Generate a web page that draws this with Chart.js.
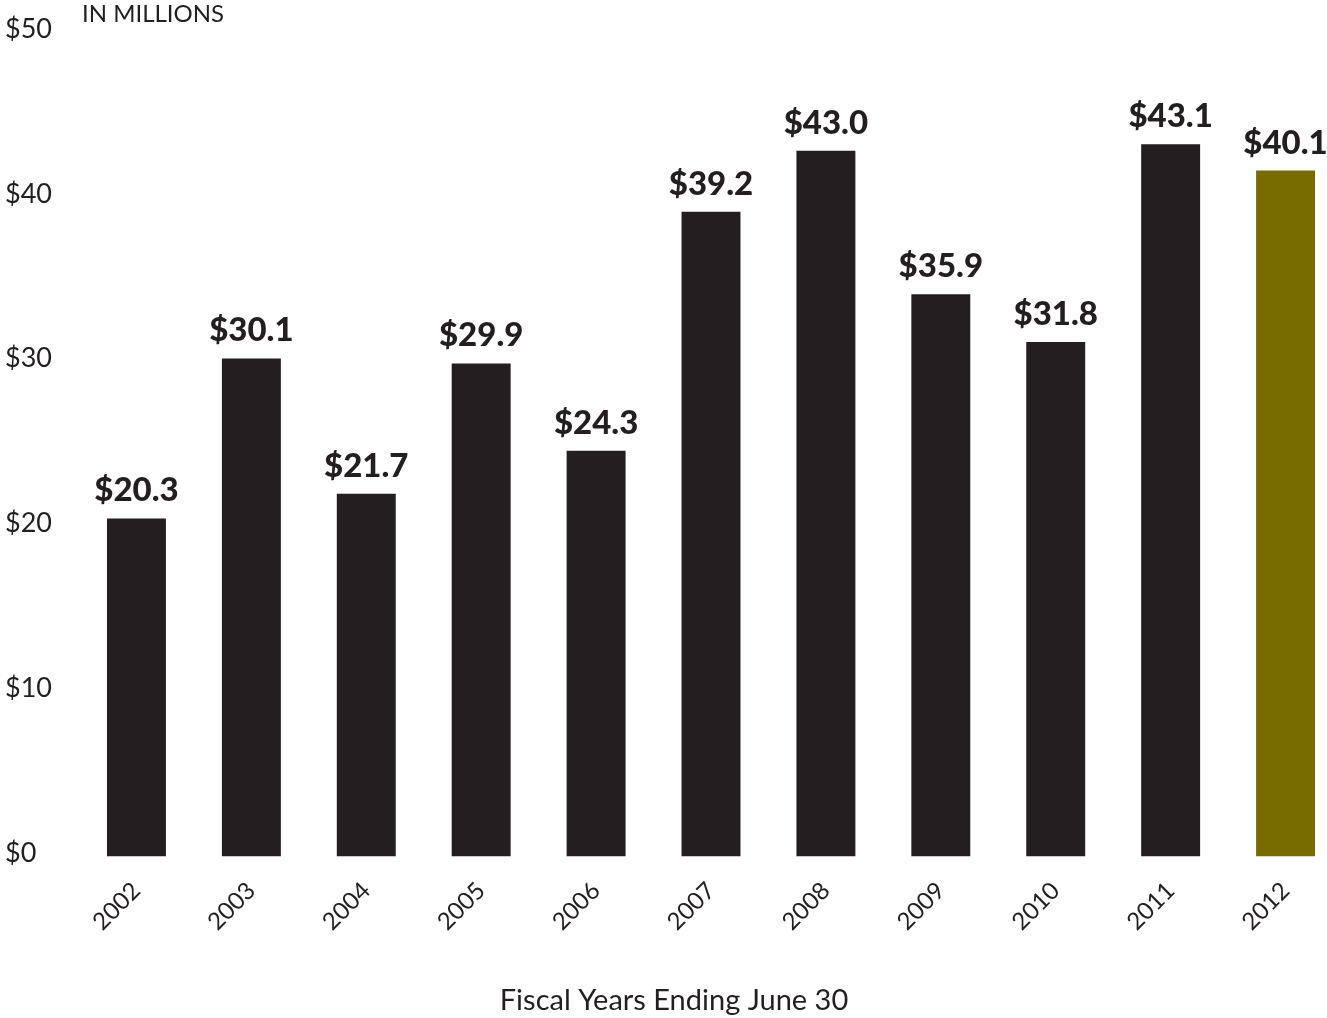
<!DOCTYPE html>
<html>
<head>
<meta charset="utf-8">
<script src="https://cdn.jsdelivr.net/npm/chart.js@4/dist/chart.umd.min.js"></script>
<style>
  html, body { margin: 0; padding: 0; background: #fff; overflow: hidden; }
  /* plot runs a little past the right window edge, as in the source */
  #wrap { width: 1343px; height: 1018px; position: relative; }
</style>
</head>
<body>
<div id="wrap"><canvas id="chart"></canvas></div>
<script>
// Fiscal year bars, heights as drawn in the picture
const years = ['2002', '2003', '2004', '2005', '2006', '2007', '2008', '2009', '2010', '2011', '2012'];
const amounts = [20.5, 30.2, 22.0, 29.9, 24.6, 39.1, 42.8, 34.1, 31.2, 43.2, 41.6];
// printed value labels above each bar
const valueLabels = ['$20.3', '$30.1', '$21.7', '$29.9', '$24.3', '$39.2', '$43.0', '$35.9', '$31.8', '$43.1', '$40.1'];
const yTicks = [0, 10, 20, 30, 40, 50];

const DARK = '#231f20';
const OLIVE = '#786c00';
const LIGHT_FONT = "Lato, 'Open Sans', sans-serif";

// Draw the bold value above each bar + the "IN MILLIONS" note
const valueLabelPlugin = {
  id: 'valueLabels',
  afterDatasetsDraw(chart) {
    const { ctx } = chart;
    const meta = chart.getDatasetMeta(0);
    ctx.save();
    ctx.fillStyle = DARK;
    ctx.font = "900 33px Lato, 'Open Sans', sans-serif";
    ctx.textAlign = 'center';
    ctx.textBaseline = 'alphabetic';
    meta.data.forEach((bar, i) => {
      ctx.fillText(valueLabels[i], bar.x, bar.y - 17);
    });
    ctx.font = "400 24px " + LIGHT_FONT;
    ctx.textAlign = 'left';
    ctx.textBaseline = 'top';
    ctx.fillText('IN MILLIONS', 82, 2);
    ctx.restore();
  }
};

new Chart(document.getElementById('chart'), {
  type: 'bar',
  data: {
    labels: years,
    datasets: [{
      data: amounts,
      backgroundColor: years.map((y, i) => i === years.length - 1 ? OLIVE : DARK),
      borderWidth: 0,
      barPercentage: 0.513,
      categoryPercentage: 1
    }]
  },
  options: {
    responsive: true,
    maintainAspectRatio: false,
    animation: false,
    layout: { padding: { left: 5, right: 0, top: 32, bottom: 0 } },
    plugins: {
      legend: { display: false },
      tooltip: { enabled: false },
      title: {
        display: true,
        position: 'bottom',
        text: 'Fiscal Years Ending June 30',
        color: DARK,
        font: { family: LIGHT_FONT, size: 29, weight: '400' },
        padding: { top: 35, bottom: 0 }
      }
    },
    scales: {
      x: {
        grid: { display: false },
        border: { display: false },
        ticks: {
          color: DARK,
          font: { family: LIGHT_FONT, size: 24, weight: '400' },
          maxRotation: 45,
          minRotation: 45,
          padding: 12
        }
      },
      y: {
        min: 0,
        max: 50,
        afterBuildTicks: (scale) => { scale.ticks = yTicks.map(v => ({ value: v })); },
        afterFit: (scale) => { scale.width = 74; },
        grid: { display: false },
        border: { display: false },
        ticks: {
          color: DARK,
          crossAlign: 'far',
          labelOffset: -3,
          font: { family: LIGHT_FONT, size: 27, weight: '400' },
          callback: (v) => '$' + v
        }
      }
    }
  },
  plugins: [valueLabelPlugin]
});
</script>
</body>
</html>
